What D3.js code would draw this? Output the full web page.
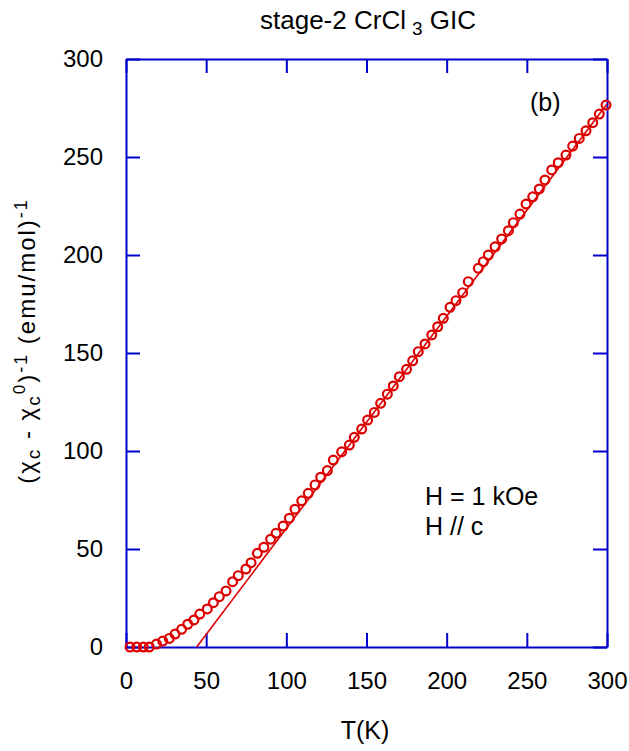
<!DOCTYPE html>
<html>
<head>
<meta charset="utf-8">
<script src="https://cdn.jsdelivr.net/npm/d3@7"></script>
<style>
  body { margin: 0; background: #fff; }
  text { font-family: "Liberation Sans", Arial, sans-serif; }
</style>
</head>
<body>
<svg id="svg"></svg>
<script>
// data
var tempK = [2.5, 6.7, 10.8, 14.5, 19, 22.9, 27, 30.6, 34.7, 38.5, 42.4, 46, 50.7, 54.5, 58.2,
  62.4, 66.5, 70, 74.8, 78, 81.9, 86, 90.2, 93.6, 98, 101.9, 105.4, 109.6, 113.7, 117.9,
  121.4, 125.6, 129.3, 134.5, 139.3, 142.4, 147, 150.7, 154.9, 158.8, 163, 166.7, 170.5,
  175, 178.8, 182.3, 186.5, 190.7, 194.4, 197.9, 202.1, 205.8, 210, 213.5,
  219.7, 222.9, 226, 230.2, 234.3, 238.5, 241.6, 245.7, 249.5, 253.7, 257.8, 261.3,
  265.5, 269.6, 274.4, 278.6, 282.7, 286.9, 291.1, 295.2, 299.4];
var invChi = [0, 0, 0, 0, 1.5, 3, 4.4, 6.6, 9, 11.6, 13.8, 16.8, 19.4, 22.6, 25.7,
  28.6, 33.3, 36.4, 39.8, 43, 47.8, 50.9, 55, 58, 61.7, 65.7, 70.3, 74.6, 78.4, 82.7,
  86.6, 90, 95.4, 99.6, 103, 107, 111.2, 115.8, 119.7, 124.3, 129, 133.2, 137.9,
  141.7, 146, 150.7, 154.6, 159.2, 163.4, 167.7, 173.3, 176.7, 180.8, 186.4,
  193.2, 196.6, 200, 204.2, 208.2, 212.4, 216.5, 220.9, 226, 229.7, 233.7, 238.3,
  243.4, 247.1, 251, 255.6, 259.5, 263.4, 267.5, 271.9, 276.5];
// Curie-Weiss fit line
var fitT = [44.1, 300];
var fitV = [0, 277];
var xTicks = [0, 50, 100, 150, 200, 250, 300];
var yTicks = [0, 50, 100, 150, 200, 250, 300];

var W = 629, H = 751;
var pLeft = 126, pRight = 607, pTop = 59, pBottom = 647;
var axisColor = "#0000cc", red = "#dd0000";

var svg = d3.select("#svg").attr("width", W).attr("height", H);

var x = d3.scaleLinear().domain([0, 300]).range([pLeft, pRight]);
var y = d3.scaleLinear().domain([0, 300]).range([pBottom, pTop]);

function styleAxis(g) {
  g.selectAll("path, line").attr("stroke", axisColor).attr("stroke-width", 2);
  g.selectAll("text").attr("fill", "#000").attr("font-size", 24)
    .attr("font-family", "'Liberation Sans', Arial, sans-serif");
}

svg.append("g").attr("transform", "translate(0," + pBottom + ")")
  .call(d3.axisBottom(x).tickValues(xTicks).tickSizeInner(-14).tickSizeOuter(0).tickPadding(25))
  .call(styleAxis);
svg.append("g").attr("transform", "translate(0," + pTop + ")")
  .call(d3.axisTop(x).tickValues(xTicks).tickSizeInner(-14).tickSizeOuter(0).tickFormat(""))
  .call(styleAxis);
svg.append("g").attr("transform", "translate(" + pLeft + ",0)")
  .call(d3.axisLeft(y).tickValues(yTicks).tickSizeInner(-14).tickSizeOuter(0).tickPadding(23))
  .call(styleAxis);
svg.append("g").attr("transform", "translate(" + pRight + ",0)")
  .call(d3.axisRight(y).tickValues(yTicks).tickSizeInner(-14).tickSizeOuter(0).tickFormat(""))
  .call(styleAxis);

// fit line
var line = d3.line().x(function(d) { return x(d[0]); }).y(function(d) { return y(d[1]); });
svg.append("path")
  .attr("d", line(d3.zip(fitT, fitV)))
  .attr("stroke", red).attr("stroke-width", 1.6).attr("fill", "none");

// data markers
svg.append("g").selectAll("circle")
  .data(d3.zip(tempK, invChi))
  .enter().append("circle")
  .attr("cx", function(d) { return x(d[0]); })
  .attr("cy", function(d) { return y(d[1]); })
  .attr("r", 4.4)
  .attr("fill", "none").attr("stroke", red).attr("stroke-width", 2.2);

// title
var title = svg.append("text").attr("x", 368).attr("y", 29)
  .attr("text-anchor", "middle").attr("font-size", 26);
title.append("tspan").text("stage-2 CrCl");
title.append("tspan").attr("dx", 6).attr("dy", 6).attr("font-size", 19).text("3");
title.append("tspan").attr("dy", -6).text(" GIC");

// axis titles
svg.append("text").attr("x", 365).attr("y", 739)
  .attr("text-anchor", "middle").attr("font-size", 25).text("T(K)");

var yl = svg.append("text")
  .attr("transform", "translate(35,341) rotate(-90)")
  .attr("text-anchor", "middle").attr("font-size", 24)
  .attr("letter-spacing", 2);
yl.append("tspan").text("(χ");
yl.append("tspan").attr("dy", 5).attr("font-size", 19).text("c");
yl.append("tspan").attr("dy", -5).text(" - χ");
yl.append("tspan").attr("dy", 5).attr("font-size", 19).text("c");
yl.append("tspan").attr("dy", -15).attr("font-size", 17).text("0");
yl.append("tspan").attr("dy", 10).text(")");
yl.append("tspan").attr("dy", -8).attr("font-size", 18).text("-1");
yl.append("tspan").attr("dy", 8).text(" (emu/mol)");
yl.append("tspan").attr("dy", -8).attr("font-size", 18).text("-1");

// annotations
svg.append("text").attr("x", 530).attr("y", 111).attr("font-size", 25).text("(b)");
svg.append("text").attr("x", 425).attr("y", 505).attr("font-size", 25).text("H = 1 kOe");
svg.append("text").attr("x", 425).attr("y", 535).attr("font-size", 25).text("H // c");
</script>
</body>
</html>
